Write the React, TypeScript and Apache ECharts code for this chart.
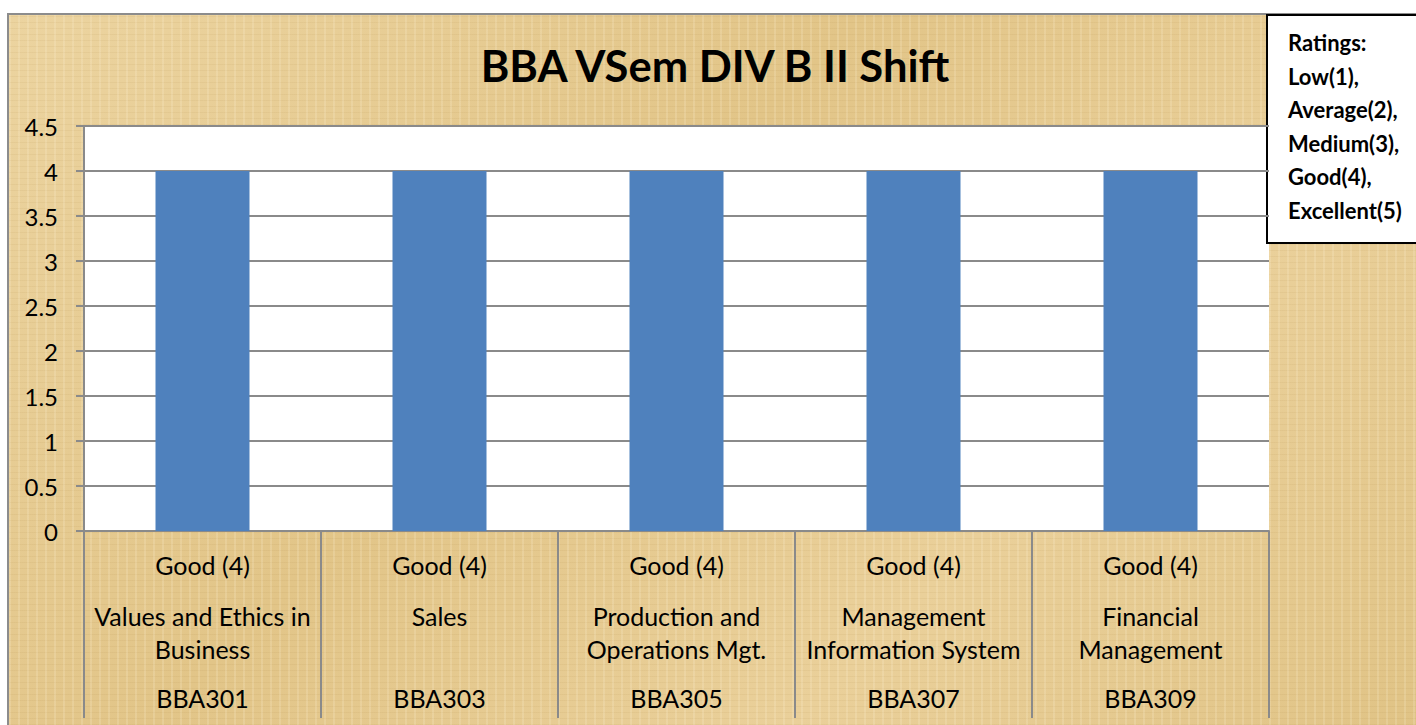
import React, { useEffect, useRef } from "react";
import * as echarts from "echarts";

const courseCodes = ["BBA301", "BBA303", "BBA305", "BBA307", "BBA309"];
const subjectNames = [
  "Values and Ethics in\nBusiness",
  "Sales",
  "Production and\nOperations Mgt.",
  "Management\nInformation System",
  "Financial\nManagement",
];
const ratingLabels = ["Good (4)", "Good (4)", "Good (4)", "Good (4)", "Good (4)"];
const ratingValues = [4, 4, 4, 4, 4];
const yMin = 0;
const yMax = 4.5;
const yInterval = 0.5;
const chartTitle = "BBA VSem DIV B II Shift";
const ratingsLegend = ["Ratings:", "Low(1),", "Average(2),", "Medium(3),", "Good(4),", "Excellent(5)"];

const FONT = "Lato, 'Open Sans', sans-serif";
const GRAY = "#8a8a8a";

export default function App() {
  const ref = useRef<HTMLDivElement>(null);

  useEffect(() => {
    if (!ref.current) return;
    const chart = echarts.init(ref.current, undefined, { renderer: "svg" });
    chart.setOption({
      animation: false,
      backgroundColor: "transparent",
      title: {
        text: chartTitle,
        left: 710,
        top: 38,
        textAlign: "center",
        textStyle: { fontFamily: FONT, fontWeight: "bold", fontSize: 43.5, color: "#000" },
      },
      grid: {
        left: 84,
        right: 147,
        top: 126,
        bottom: 194,
        show: true,
        backgroundColor: "#ffffff",
        borderWidth: 0,
        containLabel: false,
      },
      xAxis: {
        type: "category",
        data: courseCodes,
        boundaryGap: true,
        axisLine: { show: true, lineStyle: { color: GRAY, width: 2 } },
        axisTick: {
          show: true,
          interval: 0,
          alignWithLabel: false,
          length: 187,
          lineStyle: { color: GRAY, width: 2 },
        },
        axisLabel: {
          interval: 0,
          margin: 0,
          color: "#000",
          fontFamily: FONT,
          formatter: (_v: string, idx: number) => {
            const parts = subjectNames[idx].split("\n");
            const l1 = parts[0];
            const l2 = parts[1] ?? " ";
            return `{a|${ratingLabels[idx]}}\n{b|${l1}}\n{b|${l2}}\n{c|${courseCodes[idx]}}`;
          },
          rich: {
            a: { fontSize: 25, lineHeight: 68, fontFamily: FONT, color: "#000", align: "center" },
            b: { fontSize: 25, lineHeight: 33, fontFamily: FONT, color: "#000", align: "center" },
            c: { fontSize: 25, lineHeight: 65, fontFamily: FONT, color: "#000", align: "center" },
          },
        },
      },
      yAxis: {
        type: "value",
        min: yMin,
        max: yMax,
        interval: yInterval,
        axisLine: { show: true, lineStyle: { color: GRAY, width: 2 } },
        axisTick: { show: true, length: 8, lineStyle: { color: GRAY, width: 2 } },
        axisLabel: { fontFamily: FONT, fontSize: 24, color: "#000", margin: 26 },
        splitLine: { show: true, lineStyle: { color: GRAY, width: 2 } },
      },
      series: [
        {
          type: "bar",
          data: ratingValues,
          barWidth: 94,
          itemStyle: { color: "#4f81bd" },
        },
      ],
      graphic: [
        {
          type: "group",
          children: [
            {
              type: "rect",
              shape: { x: 1267, y: 15, width: 160, height: 228 },
              style: { fill: "#ffffff", stroke: "#000000", lineWidth: 2 },
            },
            {
              type: "text",
              x: 1288,
              y: 26,
              style: {
                text: ratingsLegend.join("\n"),
                fontFamily: FONT,
                fontWeight: "bold",
                fontSize: 22,
                lineHeight: 33.5,
                fill: "#000",
              },
            },
          ],
        },
      ],
    });
    return () => chart.dispose();
  }, []);

  return (
    <div style={{ position: "fixed", left: 0, top: 0, width: 1416, height: 725, background: "#ffffff", overflow: "hidden" }}>
      <div
        style={{
          position: "absolute",
          left: 7,
          top: 13,
          width: 1420,
          height: 720,
          boxSizing: "border-box",
          border: "2px solid #8c8c8c",
          backgroundColor: "#e6cb92",
          backgroundImage:
            "repeating-linear-gradient(90deg, rgba(255,245,220,0.18) 0px, rgba(255,245,220,0.18) 2px, transparent 2px, transparent 9px), repeating-linear-gradient(0deg, rgba(150,110,40,0.07) 0px, rgba(150,110,40,0.07) 1px, transparent 1px, transparent 6px), linear-gradient(135deg, #ecd4a0 0%, #e2c588 40%, #ead09a 70%, #e0c385 100%)",
        }}
      />
      <div ref={ref} style={{ position: "absolute", left: 0, top: 0, width: 1416, height: 725 }} />
    </div>
  );
}
